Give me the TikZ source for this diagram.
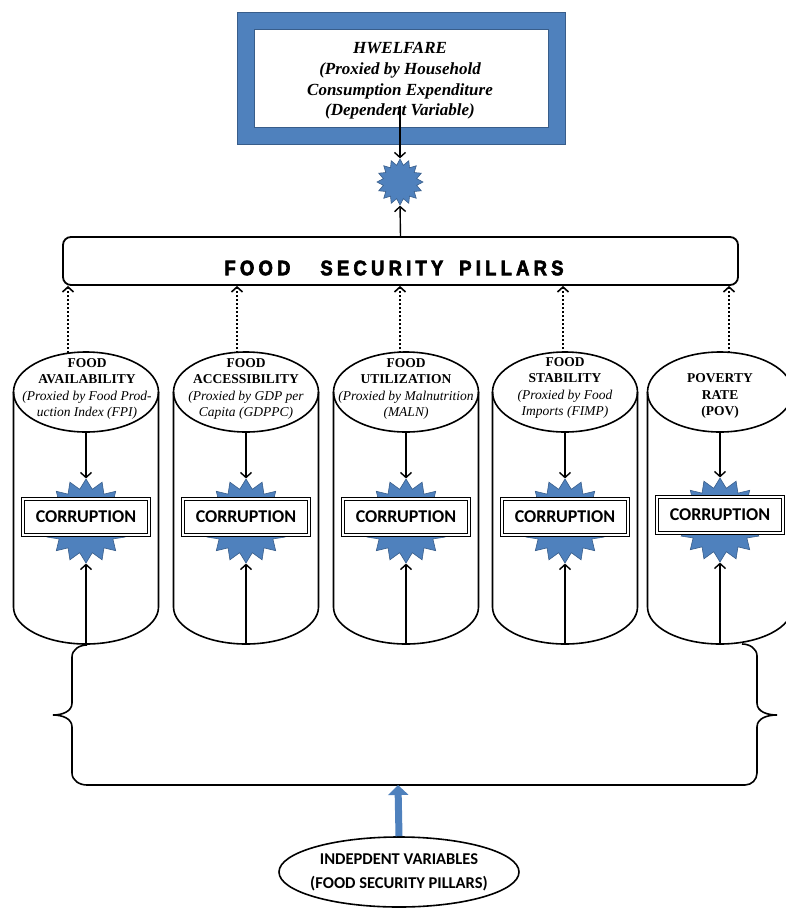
\documentclass[tikz,border=0pt]{standalone}
\usepackage{fontspec}
\setmainfont{Liberation Serif}
\newfontfamily\calfont{Carlito}
\newfontfamily\pillarfont[LetterSpace=20, FakeBold=3, FakeStretch=0.88]{Liberation Sans}
\usetikzlibrary{shapes.geometric, arrows.meta}
\definecolor{officeblue}{HTML}{4F81BD}
\definecolor{blueedge}{HTML}{385D8A}

\begin{document}
\begin{tikzpicture}[x=1pt, y=1pt, >={Straight Barb[length=5pt,width=11pt]},
    every node/.style={align=center},
    welfare/.style={draw=blueedge, double=officeblue, double distance=16pt, line width=1pt, fill=white, minimum width=311, minimum height=115},
    welfaretext/.style={inner sep=0pt, font=\fontsize{17}{20.7}\selectfont\bfseries\itshape},
    pillarbar/.style={draw, line width=1.8pt, rounded corners=8pt, minimum width=675, minimum height=48},
    pillarcap/.style={ellipse, draw, line width=1.6pt, fill=white, minimum width=145, minimum height=80, inner sep=0pt, outer sep=0pt},
    captext/.style={font=\fontsize{13.5}{16.3}\selectfont\bfseries, inner sep=0pt},
    body/.style={line width=1.6pt},
    burst/.style={star, star points=16, star point ratio=1.3, minimum size=84, inner sep=0pt, draw=blueedge, fill=officeblue, line width=0.6pt},
    corrbox/.style={draw, double, double distance=1.4pt, line width=1.2pt, fill=white, minimum width=126, minimum height=36, font=\calfont\bfseries\fontsize{18}{20}\selectfont},
    indep/.style={ellipse, draw, line width=1.6pt, minimum width=240, minimum height=70, inner xsep=-6pt, inner ysep=0pt, font=\calfont\bfseries\fontsize{16.5}{24}\selectfont},
    arrow/.style={->, line width=1.4pt},
    dotarrow/.style={->, line width=1.6pt, dash pattern=on 2pt off 2pt},
    bluearrow/.style={line width=7pt, draw=officeblue, -{Triangle[length=10pt,width=20pt]}},
    brace/.style={line width=1.6pt}]
    \useasboundingbox (0,0) rectangle (786,-908);
    % Nodes
    \node[welfare] (hwelfare) at (401.5,-78.5) {};
    \node[welfaretext] (welfarelabel) at (400,-81) {HWELFARE\\(Proxied by Household\\Consumption Expenditure\\(Dependent Variable)};
    \node[burst, minimum size=46, star point ratio=1.35] (topburst) at (400,-182) {};
    \node[pillarbar] (pillars) at (400.5,-261) {};
    \node[inner sep=0pt] (pillarstext) at (394,-268) {\pillarfont\bfseries\fontsize{21}{24}\selectfont FOOD\hspace{30pt}SECURITY\hspace{16pt}PILLARS};

    \node[pillarcap] (cap1) at (86,-392) {};
    \node[pillarcap] (cap2) at (246,-392) {};
    \node[pillarcap] (cap3) at (406,-392) {};
    \node[pillarcap] (cap4) at (565,-392) {};
    \node[pillarcap] (cap5) at (720,-392) {};
    \draw[body] (cap1.west) -- ++(0,-215) arc[start angle=180, end angle=360, x radius=72.5, y radius=37] -- (cap1.east);
    \draw[body] (cap2.west) -- ++(0,-215) arc[start angle=180, end angle=360, x radius=72.5, y radius=37] -- (cap2.east);
    \draw[body] (cap3.west) -- ++(0,-215) arc[start angle=180, end angle=360, x radius=72.5, y radius=37] -- (cap3.east);
    \draw[body] (cap4.west) -- ++(0,-215) arc[start angle=180, end angle=360, x radius=72.5, y radius=37] -- (cap4.east);
    \draw[body] (cap5.west) -- ++(0,-215) arc[start angle=180, end angle=360, x radius=72.5, y radius=37] -- (cap5.east);
    \node[captext] (text1) at (87,-389) {FOOD\\AVAILABILITY\\{\mdseries\itshape (Proxied by Food Prod-}\\{\mdseries\itshape uction Index (FPI)}};
    \node[captext] (text2) at (246,-389) {FOOD\\ACCESSIBILITY\\{\mdseries\itshape (Proxied by GDP per}\\{\mdseries\itshape Capita (GDPPC)}};
    \node[captext] (text3) at (406,-389) {FOOD\\UTILIZATION\\{\mdseries\itshape (Proxied by Malnutrition}\\{\mdseries\itshape (MALN)}};
    \node[captext] (text4) at (565,-388) {FOOD\\STABILITY\\{\mdseries\itshape (Proxied by Food}\\{\mdseries\itshape Imports (FIMP)}};
    \node[captext] (text5) at (720,-396) {POVERTY\\RATE\\(POV)};

    \node[burst] (burst1) at (86,-521) {};
    \node[burst] (burst2) at (246,-521) {};
    \node[burst] (burst3) at (406,-521) {};
    \node[burst] (burst4) at (565,-521) {};
    \node[burst] (burst5) at (720,-520) {};
    \node[corrbox] (corr1) at (86,-517) {CORRUPTION};
    \node[corrbox] (corr2) at (246,-517) {CORRUPTION};
    \node[corrbox] (corr3) at (406,-517) {CORRUPTION};
    \node[corrbox] (corr4) at (565,-517) {CORRUPTION};
    \node[corrbox] (corr5) at (720,-515) {CORRUPTION};

    \node[indep] (indep) at (399,-872) {INDEPDENT VARIABLES\\(FOOD SECURITY PILLARS)};

    \coordinate (wtail) at (400,-106);
    \coordinate (d1) at (68,-353);
    \coordinate (d2) at (237,-353);
    \coordinate (d3) at (400,-353);
    \coordinate (d4) at (563,-353);
    \coordinate (d5) at (729,-353);
    \coordinate (base1) at (86,-644);
    \coordinate (base2) at (246,-644);
    \coordinate (base3) at (406,-644);
    \coordinate (base4) at (565,-644);
    \coordinate (base5) at (720,-644);
    \coordinate (gather) at (398,-785);

    % Brace
    \draw[brace] (87,-645) to[out=180,in=90] (72,-657) -- (72,-703) to[out=270,in=0] (53,-715) to[out=0,in=90] (72,-727) -- (72,-773) to[out=270,in=180] (87,-785) -- (745,-785) to[out=0,in=270] (757,-773) -- (757,-727) to[out=90,in=180] (777,-715) to[out=180,in=270] (757,-703) -- (757,-656) to[out=90,in=0] (742,-644);

    % Edges
    \draw[arrow] (wtail) -- (topburst.north);
    \draw[arrow] (pillars.north) -- (topburst.south);
    \draw[dotarrow] (d1) -- (d1 |- pillars.south);
    \draw[dotarrow] (d2) -- (d2 |- pillars.south);
    \draw[dotarrow] (d3) -- (d3 |- pillars.south);
    \draw[dotarrow] (d4) -- (d4 |- pillars.south);
    \draw[dotarrow] (d5) -- (d5 |- pillars.south);
    \draw[arrow] (cap1.south) -- (burst1.north);
    \draw[arrow] (cap2.south) -- (burst2.north);
    \draw[arrow] (cap3.south) -- (burst3.north);
    \draw[arrow] (cap4.south) -- (burst4.north);
    \draw[arrow] (cap5.south) -- (burst5.north);
    \draw[arrow] (base1) -- (burst1.south);
    \draw[arrow] (base2) -- (burst2.south);
    \draw[arrow] (base3) -- (burst3.south);
    \draw[arrow] (base4) -- (burst4.south);
    \draw[arrow] (base5) -- (burst5.south);
    \draw[bluearrow] (indep.north) -- (gather);
\end{tikzpicture}
\end{document}
